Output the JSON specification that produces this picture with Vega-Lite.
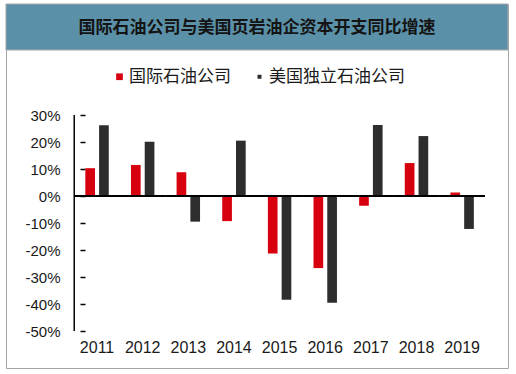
{
  "$schema": "https://vega.github.io/schema/vega-lite/v6.json",
  "width": 502,
  "height": 364,
  "autosize": {"type": "none"},
  "padding": {"left": 6, "top": 4, "right": 8, "bottom": 6},
  "background": "white",
  "config": {"view": {"stroke": "#a6a6a6", "strokeWidth": 1}},
  "data": {
    "values": [
      {"year": "2011", "series": "国际石油公司", "value": 0.103},
      {"year": "2011", "series": "美国独立石油公司", "value": 0.262},
      {"year": "2012", "series": "国际石油公司", "value": 0.115},
      {"year": "2012", "series": "美国独立石油公司", "value": 0.201},
      {"year": "2013", "series": "国际石油公司", "value": 0.088},
      {"year": "2013", "series": "美国独立石油公司", "value": -0.095},
      {"year": "2014", "series": "国际石油公司", "value": -0.093},
      {"year": "2014", "series": "美国独立石油公司", "value": 0.205},
      {"year": "2015", "series": "国际石油公司", "value": -0.213},
      {"year": "2015", "series": "美国独立石油公司", "value": -0.384},
      {"year": "2016", "series": "国际石油公司", "value": -0.267},
      {"year": "2016", "series": "美国独立石油公司", "value": -0.395},
      {"year": "2017", "series": "国际石油公司", "value": -0.036},
      {"year": "2017", "series": "美国独立石油公司", "value": 0.263},
      {"year": "2018", "series": "国际石油公司", "value": 0.122},
      {"year": "2018", "series": "美国独立石油公司", "value": 0.222},
      {"year": "2019", "series": "国际石油公司", "value": 0.013},
      {"year": "2019", "series": "美国独立石油公司", "value": -0.122}
    ]
  },
  "layer": [
    {
      "data": {"values": [{"part": "标题"}]},
      "mark": {"type": "rect", "fill": "#5b91a8", "stroke": "#a6a6a6", "strokeWidth": 1},
      "encoding": {
        "y": {"datum": 0.7111, "type": "quantitative"},
        "y2": {"datum": 0.5407}
      }
    },
    {
      "data": {"values": [{"part": "标题"}]},
      "mark": {"type": "text", "font": "Noto Sans CJK SC", "fontSize": 17, "fontWeight": "bold", "color": "#141414", "baseline": "middle", "align": "center"},
      "encoding": {
        "y": {"datum": 0.6204, "type": "quantitative"},
        "text": {"value": "国际石油公司与美国页岩油企资本开支同比增速"}
      }
    },
    {
      "mark": {"type": "bar"},
      "encoding": {
        "x": {
          "field": "year", "type": "nominal",
          "scale": {"paddingInner": 0, "paddingOuter": 1.105, "align": 0.7475},
          "axis": {"orient": "bottom", "offset": -37, "domain": false, "ticks": false, "labelPadding": 8, "labelAngle": 0, "labelFont": "Liberation Sans", "labelFontSize": 16, "labelColor": "#1a1a1a", "title": null, "grid": false}
        },
        "xOffset": {
          "field": "series", "type": "nominal",
          "scale": {"domain": ["国际石油公司", "美国独立石油公司"], "paddingInner": 0.296, "paddingOuter": 0.806}
        },
        "y": {
          "field": "value", "type": "quantitative",
          "scale": {"domain": [-0.637, 0.7111], "nice": false, "zero": false},
          "axis": {"values": [-0.5, -0.4, -0.3, -0.2, -0.1, 0, 0.1, 0.2, 0.3], "labelExpr": "round(datum.value*100) + '%'", "offset": -74, "domain": false, "grid": false, "tickSize": -5, "tickColor": "#000000", "tickWidth": 1.5, "labelPadding": 25, "labelFont": "Liberation Sans", "labelFontSize": 15, "labelColor": "#1a1a1a", "title": null}
        },
        "y2": {"datum": 0},
        "color": {
          "field": "series", "type": "nominal",
          "scale": {"domain": ["国际石油公司", "美国独立石油公司"], "range": ["#d7000f", "#2d2d2d"]},
          "legend": {
            "orient": "none", "legendX": 105, "legendY": 64, "direction": "horizontal", "title": null,
            "symbolType": "square", "symbolSize": 45, "symbolStrokeWidth": 0,
            "labelFont": "Noto Sans CJK SC", "labelFontSize": 17, "labelColor": "#1a1a1a",
            "labelOffset": 1, "columnPadding": 20, "padding": 0,
            "encode": {"symbols": {"update": {"size": {"signal": "datum.label === '美国独立石油公司' ? 16 : 45"}}}}
          }
        }
      }
    },
    {
      "mark": {"type": "rect", "fill": "#000000"},
      "encoding": {
        "x": {"field": "year", "type": "nominal"},
        "y": {"datum": 0.0035, "type": "quantitative"},
        "y2": {"datum": -0.0035}
      }
    },
    {
      "transform": [{"filter": "datum.year === '2011' && datum.series === '国际石油公司'"}],
      "mark": {"type": "rule", "color": "#000000", "strokeWidth": 1.5},
      "encoding": {
        "x": {"field": "year", "type": "nominal", "bandPosition": 0},
        "y": {"datum": 0.3, "type": "quantitative"},
        "y2": {"datum": -0.5}
      }
    }
  ]
}
